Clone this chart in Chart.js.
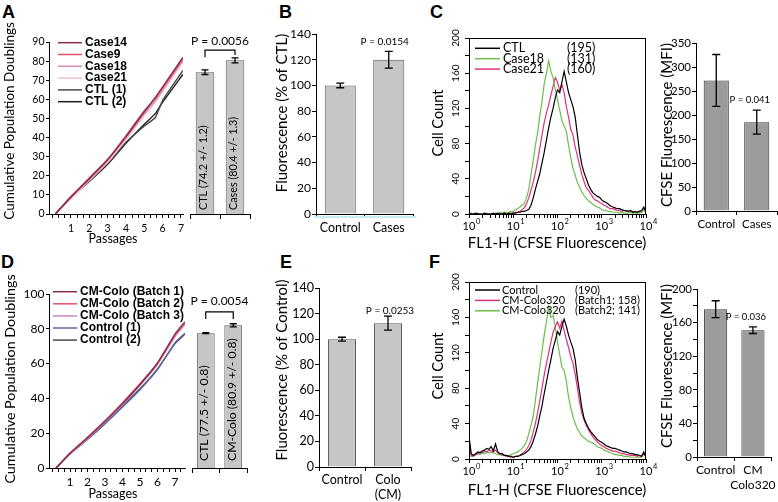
<!DOCTYPE html>
<html>
<head>
<meta charset="utf-8">
<script src="https://cdn.jsdelivr.net/npm/chart.js@4.4.1/dist/chart.umd.min.js"></script>
<style>
  body { margin: 0; background: #fff; }
  #fig { position: relative; width: 778px; height: 502px; overflow: hidden; background: #fff; }
  #fig canvas { position: absolute; }
  .tag { position: absolute; font: bold 18px "Liberation Sans", Arial, sans-serif; line-height: 18px; }
</style>
</head>
<body>
<div id="fig">
  <div class="tag" style="left:2px;top:3px">A</div>
  <div class="tag" style="left:279px;top:3px">B</div>
  <div class="tag" style="left:430px;top:3px">C</div>
  <div class="tag" style="left:1px;top:253px">D</div>
  <div class="tag" style="left:280px;top:253px">E</div>
  <div class="tag" style="left:429px;top:253px">F</div>
</div>
<script>
Chart.defaults.font.family = 'Lato, sans-serif'
Chart.defaults.color = '#000'

// ---- panel A: cumulative population doublings ----
const passagesA = [0.15, 1, 2, 3, 4, 5, 5.6, 6, 7.1]
const case14 = [0, 9, 18.5, 28.5, 40.5, 53.5, 61, 66.5, 82]
const case9 = [0, 9, 19, 28.5, 41, 54, 60.5, 66, 81]
const case18 = [0, 8.5, 18, 28, 40, 52.5, 59.5, 65, 80.5]
const case21 = [0, 8, 17.5, 27, 39, 51.5, 58.5, 64, 79.5]
const ctl1A = [0, 9, 17.5, 26.5, 37.5, 46, 50.5, 59.5, 75]
const ctl2A = [0, 8.5, 17, 26, 37, 47, 52.5, 58.5, 73]
const groupsA = ['CTL', 'Cases']
const meansA = [74.2, 80.4]
const errA = [1.2, 1.3]
const notesA = ['CTL (74.2 +/- 1.2)', 'Cases (80.4 +/- 1.3)']

// ---- panel D ----
const passagesD = [0.2, 1, 2, 3, 4, 5, 6, 7, 7.57]
const batch1 = [0, 8.5, 17.5, 27, 37, 48, 60.5, 77, 84]
const batch2 = [0, 8.5, 17.5, 27, 37.5, 48.5, 60, 76.5, 83.5]
const batch3 = [0, 8, 17, 26.5, 36.5, 47.5, 59.5, 75.5, 82.5]
const ctl1D = [0, 8, 16.5, 25.5, 35, 45, 56.5, 72, 77.5]
const ctl2D = [0, 8.5, 16.5, 25.5, 35.5, 45.5, 57, 71.5, 77]
const groupsD = ['CTL', 'CM-Colo']
const meansD = [77.5, 82]
const errD = [0.3, 0.9]
const notesD = ['CTL (77.5 +/- 0.8)', 'CM-Colo (80.9 +/- 0.8)']

// ---- panels B, E: fluorescence ----
const groupsB = ['Control', 'Cases']
const meansB = [100, 120]
const errB = [1.8, 6.5]
const groupsE = ['Control', ['Colo', '(CM)']]
const meansE = [100, 112.5]
const errE = [1.5, 5.5]

// ---- panels C, F: CFSE histograms (channel in log decades) ----
const flDecades = Array.from({ length: 81 }, (_, i) => i * 0.05)
const countTicks = [0, 40, 80, 120, 160, 200]
const histCtl = [1,0,0,1,0,0,0,1,0,0,0,1,0,1,0,0,1,0,1,0,
  1,1,2,2,3,3,4,5,10,18,28,37,46,58,70,84,98,110,120,132,
  141,138,150,162,150,138,130,122,110,90,70,56,47,40,33,28,24,22,20,19,
  16,14,13,11,9,8,7,6,6,5,4,4,3,4,2,3,2,3,4,8,2]
const histCase18 = [0,0,0,0,0,0,0,0,0,0,0,0,0,0,2,1,2,1,2,3,
  3,5,6,8,10,12,18,28,44,60,78,92,112,128,148,160,174,162,155,142,
  130,118,106,100,94,78,64,52,44,36,30,25,21,18,15,13,11,9,8,7,
  5,4,4,3,3,2,2,2,1,2,1,1,1,2,1,1,1,1,2,5,1]
const histCase21 = [0,1,0,0,1,0,0,0,1,0,0,0,1,0,0,1,0,0,1,1,
  1,2,2,3,5,7,12,18,27,36,47,60,75,90,104,115,124,135,145,155,
  150,140,147,138,122,110,96,90,76,66,55,45,37,30,27,23,19,16,15,13,
  12,10,9,7,6,6,5,4,4,3,4,3,3,2,3,2,2,3,2,6,2]
const histControlF = [26,6,4,6,8,7,9,10,12,11,14,9,17,8,6,6,4,4,3,3,
  2,3,3,4,5,6,8,10,14,20,28,37,49,60,74,87,100,112,125,134,
  144,140,150,158,150,140,132,125,112,92,75,58,46,40,35,31,28,25,22,20,
  19,17,15,14,13,12,12,11,10,9,8,8,7,6,6,5,5,4,3,8,2]
const histBatch1 = [20,4,3,5,6,8,7,9,8,10,9,8,10,7,6,5,4,3,3,2,
  2,3,3,4,6,8,11,15,21,30,40,52,66,80,95,108,120,132,143,150,
  155,148,156,145,135,126,116,108,96,80,64,52,44,38,33,29,25,22,19,17,
  15,14,12,11,10,9,9,8,7,6,6,5,5,4,4,4,3,4,3,6,3]
const histBatch2 = [5,3,4,5,6,5,7,6,8,7,8,7,6,5,5,4,4,3,4,5,
  6,7,8,10,12,15,20,28,38,48,66,86,104,122,140,155,172,160,162,150,
  132,118,104,100,88,70,58,48,40,34,30,26,24,22,20,19,18,16,14,13,
  12,10,9,8,7,6,5,5,4,4,3,3,3,2,2,2,2,2,2,6,2]
const groupsC = ['Control', 'Cases']
const meansC = [272, 185]
const errC = [54, 25]
const groupsF = ['Control', ['CM', 'Colo320']]
const meansF = [176, 151]
const errF = [10, 4]

// ---------- helpers ----------
const fig = document.getElementById('fig')
function mount(left, top, w, h) {
  const c = document.createElement('canvas')
  c.width = w
  c.height = h
  c.style.left = left + 'px'
  c.style.top = top + 'px'
  fig.appendChild(c)
  return c
}
const border = { display: true, color: '#000', width: 1 }
const tickGrid = len => ({ drawOnChartArea: false, drawTicks: true, tickLength: len, tickColor: '#000', color: '#000' })
function baseOptions(pad) {
  return {
    responsive: false, animation: false, devicePixelRatio: 1, events: [],
    layout: { padding: pad },
    plugins: { legend: { display: false }, tooltip: { enabled: false } }
  }
}

// everything the library has no option for: error bars, notes, legends, titles
function decor(ox, oy, cfg) {
  return {
    id: 'decor',
    afterDraw(chart) {
      const ctx = chart.ctx
      const a = chart.chartArea
      const ys = chart.scales.y
      const xs = chart.scales.x
      const bars = chart.getDatasetMeta(0).data
      const vals = chart.data.datasets[0].data
      ctx.save()
      ctx.fillStyle = '#000'
      ctx.strokeStyle = '#000'
      if (cfg.box) {
        ctx.lineWidth = 1
        ctx.strokeRect(Math.round(a.left) + 0.5, Math.round(a.top) + 0.5, Math.round(a.right - a.left) - 1, Math.round(a.bottom - a.top))
      }
      if (cfg.err) {
        ctx.lineWidth = 1.3
        cfg.err.forEach((e, i) => {
          const x = bars[i].x
          const hi = ys.getPixelForValue(vals[i] + e)
          const lo = ys.getPixelForValue(vals[i] - e)
          const c = cfg.cap / 2
          ctx.beginPath()
          ctx.moveTo(x, lo); ctx.lineTo(x, hi)
          ctx.moveTo(x - c, lo); ctx.lineTo(x + c, lo)
          ctx.moveTo(x - c, hi); ctx.lineTo(x + c, hi)
          ctx.stroke()
        })
      }
      if (cfg.inBar) {
        ctx.font = cfg.inBar.font
        ctx.textAlign = 'left'
        ctx.textBaseline = 'middle'
        cfg.inBar.texts.forEach((t, i) => {
          ctx.save()
          ctx.translate(bars[i].x + cfg.inBar.dx, a.bottom - cfg.inBar.dy)
          ctx.rotate(-Math.PI / 2)
          ctx.fillText(t, 0, 0)
          ctx.restore()
        })
      }
      if (cfg.bracket) {
        const b = cfg.bracket
        const yb = ys.getPixelForValue(b.at)
        ctx.lineWidth = 1.2
        ctx.beginPath()
        ctx.moveTo(bars[0].x, ys.getPixelForValue(b.legs[0]))
        ctx.lineTo(bars[0].x, yb)
        ctx.lineTo(bars[1].x, yb)
        ctx.lineTo(bars[1].x, ys.getPixelForValue(b.legs[1]))
        ctx.stroke()
      }
      if (cfg.p) {
        const p = cfg.p
        ctx.font = p.font
        ctx.textAlign = 'center'
        ctx.textBaseline = 'middle'
        const x = p.bar == null ? (bars[0].x + bars[1].x) / 2 : bars[p.bar].x
        ctx.fillText(p.text, x + (p.dx || 0), ys.getPixelForValue(p.at))
      }
      if (cfg.rotY) {
        ctx.font = '10px Lato'
        ctx.textAlign = 'center'
        ctx.textBaseline = 'middle'
        cfg.rotY.forEach(v => {
          ctx.save()
          ctx.translate(a.left - 13, ys.getPixelForValue(v))
          ctx.rotate(-Math.PI / 2)
          ctx.fillText(String(v), 0, 0)
          ctx.restore()
        })
      }
      if (cfg.logX) {
        for (let e = 0; e <= 4; e++) {
          const px = xs.getPixelForValue(10 ** e)
          const y = a.bottom + 12
          ctx.font = '11px Lato'
          ctx.textAlign = 'center'
          ctx.textBaseline = 'middle'
          ctx.fillText('10', px, y)
          const w = ctx.measureText('10').width
          ctx.font = '7.5px Lato'
          ctx.textAlign = 'left'
          ctx.fillText(String(e), px + w / 2 + 0.5, y - 4.5)
        }
      }
      // page coordinates from here on
      ctx.translate(-ox, -oy)
      if (cfg.legend) {
        const L = cfg.legend
        ctx.font = L.font
        ctx.textAlign = 'left'
        ctx.textBaseline = 'middle'
        chart.data.datasets.forEach((ds, r) => {
          const y = L.y + r * L.dy
          ctx.strokeStyle = ds.borderColor
          ctx.lineWidth = L.lw
          ctx.beginPath()
          ctx.moveTo(L.x1, y)
          ctx.lineTo(L.x2, y)
          ctx.stroke()
          ctx.fillStyle = '#000'
          ctx.fillText(ds.label, L.tx, y)
          if (L.extra) ctx.fillText(L.extra[r], L.ex, y)
        })
      }
      if (cfg.underline) {
        const u = cfg.underline
        ctx.strokeStyle = u.color
        ctx.lineWidth = u.w
        ctx.beginPath()
        ctx.moveTo(u.x1, u.y)
        ctx.lineTo(u.x2, u.y)
        ctx.stroke()
      }
      (cfg.titles || []).forEach(t => {
        ctx.save()
        ctx.fillStyle = '#000'
        ctx.font = t.font
        ctx.textAlign = 'center'
        ctx.textBaseline = 'middle'
        ctx.translate(t.x, t.y)
        if (t.rot) ctx.rotate(-Math.PI / 2)
        ctx.fillText(t.text, 0, 0)
        ctx.restore()
      })
      ctx.restore()
    }
  }
}

function growthPanel(left, top, w, h, o) {
  const opts = baseOptions({ top: o.padTop, right: o.padRight, left: 0, bottom: 0 })
  opts.scales = {
    x: {
      type: 'linear', min: o.xMin, max: o.xMax, border, grid: tickGrid(4),
      afterBuildTicks: s => {
        const t = []
        for (let k = 0; k / 3 <= o.xMax; k++) t.push({ value: k / 3 })
        s.ticks = t
      },
      ticks: {
        autoSkip: false, maxRotation: 0, padding: o.xPad, font: { size: o.tickFont },
        callback: v => { const r = Math.round(v); return Math.abs(v - r) < 1e-6 && r >= 1 ? String(r) : '' }
      },
      afterFit: s => { s.height = o.xH }
    },
    y: {
      min: 0, max: o.yMax, border, grid: tickGrid(3),
      ticks: { stepSize: o.yStep, padding: 1.5, font: { size: o.tickFont } },
      afterFit: s => { s.width = 49 }
    }
  }
  const datasets = o.series.map(s => ({
    label: s[0], borderColor: s[2], borderWidth: 1.4, pointRadius: 0, tension: 0.15,
    data: o.x.map((p, i) => ({ x: p, y: s[1][i] }))
  }))
  return new Chart(mount(left, top, w, h), { type: 'line', data: { datasets }, options: opts, plugins: [decor(left, top, o.decor)] })
}

function barPanel(left, top, w, h, o) {
  const opts = baseOptions({ top: o.padTop, right: o.padRight, left: o.padLeft || 0, bottom: 0 })
  opts.scales = {
    x: {
      border, grid: { ...tickGrid(o.xTick || 4), offset: true },
      ticks: { display: o.xLabels !== false, padding: o.xPad || 2, font: { size: o.xFont || 12.5 }, maxRotation: 0, autoSkip: false },
      afterFit: s => { s.height = o.xH }
    },
    y: o.yW ? {
      min: 0, max: o.yMax, border, grid: tickGrid(4),
      ticks: { stepSize: o.yStep, padding: 1, font: { size: o.yFont || 12 }, callback: o.yLabel || (v => v) },
      afterFit: s => { s.width = o.yW }
    } : { display: false, min: 0, max: o.yMax }
  }
  const data = {
    labels: o.groups,
    datasets: [{ data: o.means, backgroundColor: o.fill, borderColor: o.edge, borderWidth: 1, categoryPercentage: 1, barPercentage: o.barPct }]
  }
  return new Chart(mount(left, top, w, h), { type: 'bar', data, options: opts, plugins: [decor(left, top, o.decor)] })
}

function histPanel(left, top, w, h, o) {
  const opts = baseOptions({ top: o.padTop, right: 15, left: 0, bottom: 0 })
  opts.scales = {
    x: {
      type: 'logarithmic', min: 1, max: 10000, border, grid: tickGrid(4),
      ticks: { display: false, autoSkip: false },
      afterBuildTicks: s => {
        const t = []
        for (let e = 0; e < 4; e++) for (let k = 1; k < 10; k++) t.push({ value: k * 10 ** e })
        t.push({ value: 10000 })
        s.ticks = t
      },
      afterFit: s => { s.height = 43 }
    },
    y: {
      min: 0, max: 200, border, grid: tickGrid(4),
      ticks: { display: false, stepSize: 20 },
      afterFit: s => { s.width = 54 }
    }
  }
  const datasets = o.series.map(s => ({
    label: s[0], borderColor: s[2], borderWidth: 1.2, pointRadius: 0, tension: 0,
    data: flDecades.map((d, i) => ({ x: 10 ** d, y: s[1][i] }))
  }))
  return new Chart(mount(left, top, w, h), { type: 'line', data: { datasets }, options: opts, plugins: [decor(left, top, o.decor)] })
}

const legendFontAD = 'bold 12px "Liberation Sans", Arial, sans-serif'
const titleFont = '15px Lato'

// ---------- A ----------
growthPanel(0, 10, 190, 240, {
  x: passagesA, xMin: -0.2, xMax: 7.11, yMax: 90, yStep: 10, padTop: 32, padRight: 7, xH: 36, xPad: 4.5, tickFont: 10.5,
  series: [
    ['Case14', case14, '#8c2a4a'],
    ['Case9', case9, '#e0506e'],
    ['Case18', case18, '#d38db2'],
    ['Case21', case21, '#f3c0d6'],
    ['CTL (1)', ctl1A, '#4a4a4a'],
    ['CTL (2)', ctl2A, '#1e1e1e']
  ],
  decor: {
    legend: { x1: 58, x2: 82, tx: 85, y: 42.7, dy: 11.8, font: legendFontAD, lw: 1.5 },
    titles: [
      { text: 'Cumulative Population Doublings', x: 10, y: 121, rot: true, font: '13.5px Lato' },
      { text: 'Passages', x: 113, y: 239, font: '12.5px Lato' }
    ]
  }
})
barPanel(185, 10, 70, 240, {
  groups: groupsA, means: meansA, yMax: 90, padTop: 32, padLeft: 5, padRight: 5, xH: 36, xTick: 5, xLabels: false,
  fill: '#c6c6c6', edge: '#5a5a5a', barPct: 0.62,
  decor: {
    err: errA, cap: 7,
    inBar: { texts: notesA, font: '10.8px Lato', dx: -1.5, dy: 4 },
    bracket: { at: 85.8, legs: [82, 83.2] },
    p: { text: 'P = 0.0056', at: 90.6, font: '12px Lato' }
  }
})

// ---------- B ----------
barPanel(255, 10, 165, 245, {
  groups: groupsB, means: meansB, yMax: 140, yStep: 20, yW: 61, padTop: 24, padRight: 7, xH: 41, xPad: 2.5,
  fill: '#c6c6c6', edge: '#5a5a5a', barPct: 0.64,
  decor: {
    err: errB, cap: 8,
    p: { text: 'P = 0.0154', bar: 1, at: 134, dx: -4, font: '10px Lato' },
    underline: { x1: 314, x2: 416, y: 217, color: '#c6ecf4', w: 2 },
    titles: [{ text: 'Fluorescence (% of CTL)', x: 282, y: 113, rot: true, font: titleFont }]
  }
})

// ---------- C ----------
histPanel(415, 20, 246, 237, {
  padTop: 18,
  series: [
    ['CTL', histCtl, '#000000'],
    ['Case18', histCase18, '#6cbf4a'],
    ['Case21', histCase21, '#e2307e']
  ],
  decor: {
    box: true, rotY: countTicks, logX: true,
    legend: { x1: 475, x2: 500, tx: 503, y: 48.3, dy: 10.4, font: '12.5px Lato', lw: 1.5, extra: ['(195)', '(131)', '(160)'], ex: 567 },
    titles: [
      { text: 'Cell Count', x: 438, y: 123, rot: true, font: '14.5px Lato' },
      { text: 'FL1-H (CFSE Fluorescence)', x: 557, y: 243, font: titleFont }
    ]
  }
})
barPanel(655, 20, 123, 237, {
  groups: groupsC, means: meansC, yMax: 350, yStep: 50, yW: 41, yFont: 11.5, padTop: 23, padRight: 1, xH: 46, xPad: 2.2, xFont: 11.5,
  fill: '#9c9c9c', edge: '#333333', barPct: 0.62,
  decor: {
    err: errC, cap: 8,
    p: { text: 'P = 0.041', bar: 1, at: 231, dx: -7, font: '9.5px Lato' },
    titles: [{ text: 'CFSE Fluorescence (MFI)', x: 667, y: 125, rot: true, font: titleFont }]
  }
})

// ---------- D ----------
growthPanel(0, 255, 192, 247, {
  x: passagesD, xMin: -0.2, xMax: 7.57, yMax: 100, yStep: 20, padTop: 39, padRight: 7, xH: 34, xPad: 2.5, tickFont: 12,
  series: [
    ['CM-Colo (Batch 1)', batch1, '#8a2c48'],
    ['CM-Colo (Batch 2)', batch2, '#e8506a'],
    ['CM-Colo (Batch 3)', batch3, '#c987c0'],
    ['Control (1)', ctl1D, '#5a68a8'],
    ['Control (2)', ctl2D, '#4a4a4a']
  ],
  decor: {
    legend: { x1: 53, x2: 77, tx: 80, y: 291.7, dy: 12.1, font: legendFontAD, lw: 1.5 },
    titles: [
      { text: 'Cumulative Population Doublings', x: 10, y: 379, rot: true, font: '14.3px Lato' },
      { text: 'Passages', x: 113, y: 494, font: '12.5px Lato' }
    ]
  }
})
barPanel(187, 262, 65, 240, {
  groups: groupsD, means: meansD, yMax: 100, padTop: 32, padLeft: 5, padRight: 5, xH: 34, xTick: 5, xLabels: false,
  fill: '#c6c6c6', edge: '#5a5a5a', barPct: 0.65,
  decor: {
    err: errD, cap: 7,
    inBar: { texts: notesD, font: '12.2px Lato', dx: -1.5, dy: 7 },
    bracket: { at: 89.7, legs: [85.6, 85.6] },
    p: { text: 'P = 0.0054', at: 96, font: '12px Lato' }
  }
})

// ---------- E ----------
barPanel(255, 262, 160, 240, {
  groups: groupsE, means: meansE, yMax: 140, yStep: 20, yW: 64, yFont: 12.5, padTop: 26, padRight: 4, xH: 35, xPad: 1.2,
  fill: '#c6c6c6', edge: '#5a5a5a', barPct: 0.61,
  decor: {
    err: errE, cap: 8,
    p: { text: 'P = 0.0253', bar: 1, at: 122, dx: 2, font: '10px Lato' },
    titles: [{ text: 'Fluorescence (% of Control)', x: 282, y: 370, rot: true, font: titleFont }]
  }
})

// ---------- F ----------
histPanel(415, 262, 246, 240, {
  padTop: 20,
  series: [
    ['Control', histControlF, '#000000'],
    ['CM-Colo320', histBatch1, '#e2307e'],
    ['CM-Colo320', histBatch2, '#6cbf4a']
  ],
  decor: {
    box: true, rotY: countTicks, logX: true,
    legend: { x1: 475, x2: 500, tx: 502, y: 290, dy: 10.4, font: '11px Lato', lw: 1.5, extra: ['(190)', '(Batch1; 158)', '(Batch2; 141)'], ex: 575 },
    titles: [
      { text: 'Cell Count', x: 438, y: 366, rot: true, font: '14.5px Lato' },
      { text: 'FL1-H (CFSE Fluorescence)', x: 557, y: 490, font: titleFont }
    ]
  }
})
barPanel(655, 262, 123, 240, {
  groups: groupsF, means: meansF, yMax: 200, yStep: 20, yW: 42, yFont: 11.5, padTop: 27, padRight: 1, xH: 45, xPad: 2.2, xFont: 12,
  yLabel: v => (v % 40 === 0 ? v : ''),
  fill: '#9c9c9c', edge: '#333333', barPct: 0.62,
  decor: {
    err: errF, cap: 8,
    p: { text: 'P = 0.036', bar: 1, at: 167, dx: -7, font: '9.5px Lato' },
    titles: [{ text: 'CFSE Fluorescence (MFI)', x: 667, y: 366, rot: true, font: titleFont }]
  }
})
</script>
</body>
</html>
